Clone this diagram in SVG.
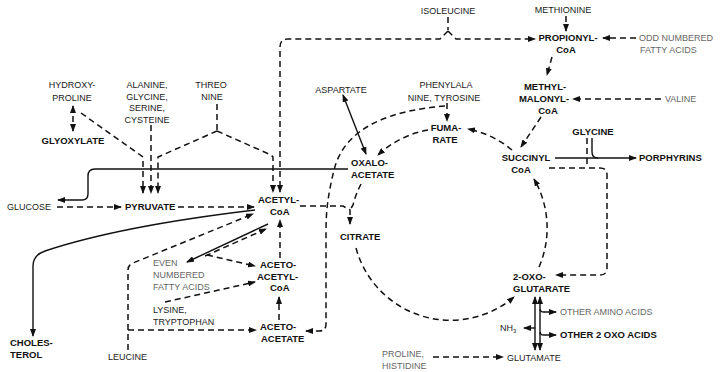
<svg xmlns="http://www.w3.org/2000/svg" width="725" height="372" viewBox="0 0 725 372">
<style>
.t{font-family:"Liberation Sans",Arial,sans-serif;font-size:9px;fill:#1a1a1a}
.b{font-weight:bold;fill:#111;font-size:9.5px}
.f{fill:#666}
.m{text-anchor:middle}
.d{fill:none;stroke:#111;stroke-width:1.5;stroke-dasharray:6 4}
.s{fill:none;stroke:#111;stroke-width:1.4}
</style>
<defs>
<marker id="a" viewBox="0 0 8 6" refX="7" refY="3" markerWidth="8" markerHeight="6" markerUnits="userSpaceOnUse" orient="auto-start-reverse"><path d="M0,0 L8,3 L0,6 z" fill="#111"/></marker>
</defs>
<rect width="725" height="372" fill="#fff"/>
<g id="connectors">
<path class="d" d="M73,106 L73,131" marker-start="url(#a)" marker-end="url(#a)"/>
<path class="d" d="M81,113 L143,157 L143,193" marker-end="url(#a)"/>
<path class="d" d="M151,125 L151,193" marker-end="url(#a)"/>
<path class="d" d="M217,104 L217,131 M217,131 L158,157 L158,193" marker-end="url(#a)"/>
<path class="d" d="M217,131 L271,155 L273,157 L273,192" marker-end="url(#a)"/>
<path class="d" d="M448,17 L448,30"/>
<path class="d" d="M448,31 L440,39 L288,39 Q280,39 280,47 L280,192" marker-end="url(#a)"/>
<path class="d" d="M448,31 L456,39 L535,39" marker-end="url(#a)"/>
<path class="d" d="M566,16 L566,31" marker-end="url(#a)"/>
<path class="d" d="M636,38 L603,38" marker-end="url(#a)"/>
<path class="d" d="M552,57 L547,75" marker-end="url(#a)"/>
<path class="d" d="M661,99 L573,99" marker-end="url(#a)"/>
<path class="d" d="M541,117 L521,147" marker-end="url(#a)"/>
<path class="d" d="M512,150 A98,98 0 0 0 468,129" marker-end="url(#a)"/>
<path class="d" d="M428,130 A98,98 0 0 0 378,155" marker-end="url(#a)"/>
<path class="d" d="M361,184 A98,98 0 0 0 353,205 L350,210"/>
<path class="d" d="M300,206 L343,206 L350,210 L350,224" marker-end="url(#a)"/>
<path class="d" d="M356,248 A98,98 0 0 0 514,297" marker-end="url(#a)"/>
<path class="d" d="M539,267 A98,98 0 0 0 534,179" marker-end="url(#a)"/>
<path class="d" d="M549,168 L600,168 Q607,168 607,175 L607,268 Q607,275 600,275 L556,275" marker-end="url(#a)"/>
<path class="d" d="M587,138 L587,168"/>
<path class="s" d="M555,158 L636,158" marker-end="url(#a)"/>
<path class="s" d="M592,138 L592,152 Q592,158 598,158"/>
<path class="s" d="M343,95 L366,154" marker-start="url(#a)" marker-end="url(#a)"/>
<path class="d" d="M447,103 L447,121" marker-end="url(#a)"/>
<path class="d" d="M445,106 C395,110 345,125 334,170 C328,195 326,210 326,232 L326,324 Q326,331 319,331 L306,331" marker-end="url(#a)"/>
<path class="s" d="M348,169 L95,169 Q88,169 88,176 L88,194 Q88,200 82,200 L58,200" marker-end="url(#a)"/>
<path class="d" d="M57,207 L121,207" marker-end="url(#a)"/>
<path class="d" d="M178,207 L254,207" marker-end="url(#a)"/>
<path class="s" d="M255,210 Q120,226 45,251 Q33,255 33,266 L33,336" marker-end="url(#a)"/>
<path class="d" d="M128,350 L128,270 Q128,265 133,263 L253,214" marker-end="url(#a)"/>
<path class="d" d="M128,330 L256,330" marker-end="url(#a)"/>
<path class="s" d="M268,224 L187,262" marker-end="url(#a)"/>
<path class="d" d="M205,256 L266,229" marker-end="url(#a)"/>
<path class="d" d="M207,255 L255,266" marker-end="url(#a)"/>
<path class="d" d="M165,302 L255,282" marker-end="url(#a)"/>
<path class="d" d="M279,320 L279,297" marker-end="url(#a)"/>
<path class="d" d="M280,258 L280,220" marker-end="url(#a)"/>
<path class="s" d="M535,297 L535,350" marker-start="url(#a)" marker-end="url(#a)"/>
<path class="s" d="M540,297 L540,350" marker-start="url(#a)" marker-end="url(#a)"/>
<path class="s" d="M535,328 L524,328" marker-end="url(#a)"/>
<path class="s" d="M540,309 Q540,312 544,312 L556,312" marker-end="url(#a)"/>
<path class="s" d="M540,332 Q540,335 544,335 L556,335" marker-end="url(#a)"/>
<path class="d" d="M433,357 L503,357" marker-end="url(#a)"/>
</g>
<g id="isoleucine"><text class="t m" x="448" y="14">ISOLEUCINE</text></g>
<g id="methionine"><text class="t m" x="563" y="13">METHIONINE</text></g>
<g id="propionyl-coa"><text class="t b m" x="568" y="41">PROPIONYL-</text><text class="t b m" x="566" y="53">CoA</text></g>
<g id="odd-fatty-acids"><text class="t f" x="639" y="41">ODD NUMBERED</text><text class="t f" x="640" y="53">FATTY ACIDS</text></g>
<g id="methylmalonyl-coa"><text class="t b m" x="545" y="90">METHYL-</text><text class="t b m" x="544" y="102">MALONYL-</text><text class="t b m" x="548" y="114">CoA</text></g>
<g id="valine"><text class="t f" x="665" y="102">VALINE</text></g>
<g id="hydroxyproline"><text class="t m" x="72" y="88">HYDROXY-</text><text class="t m" x="72" y="101">PROLINE</text></g>
<g id="alanine"><text class="t m" x="147" y="88">ALANINE,</text><text class="t m" x="147" y="100">GLYCINE,</text><text class="t m" x="147" y="111">SERINE,</text><text class="t m" x="147" y="123">CYSTEINE</text></g>
<g id="threonine"><text class="t m" x="211" y="88">THREO</text><text class="t m" x="212" y="100">NINE</text></g>
<g id="aspartate"><text class="t m" x="341" y="93">ASPARTATE</text></g>
<g id="phenylalanine"><text class="t m" x="446" y="88">PHENYLALA</text><text class="t m" x="444" y="101">NINE, TYROSINE</text></g>
<g id="fumarate"><text class="t b m" x="446" y="131">FUMA-</text><text class="t b m" x="445" y="143">RATE</text></g>
<g id="glycine"><text class="t b m" x="593" y="135">GLYCINE</text></g>
<g id="succinyl-coa"><text class="t b m" x="526" y="161">SUCCINYL</text><text class="t b m" x="521" y="173">CoA</text></g>
<g id="porphyrins"><text class="t b" x="639" y="161">PORPHYRINS</text></g>
<g id="glyoxylate"><text class="t b m" x="73" y="144">GLYOXYLATE</text></g>
<g id="oxaloacetate"><text class="t b" x="351" y="166">OXALO-</text><text class="t b" x="351" y="178">ACETATE</text></g>
<g id="glucose"><text class="t" x="7" y="210">GLUCOSE</text></g>
<g id="pyruvate"><text class="t b" x="125" y="210">PYRUVATE</text></g>
<g id="acetyl-coa"><text class="t b" x="258" y="203">ACETYL-</text><text class="t b" x="270" y="215">CoA</text></g>
<g id="citrate"><text class="t b" x="340" y="240">CITRATE</text></g>
<g id="even-fatty-acids"><text class="t f" x="153" y="266">EVEN</text><text class="t f" x="153" y="278">NUMBERED</text><text class="t f" x="153" y="290">FATTY ACIDS</text></g>
<g id="acetoacetyl-coa"><text class="t b" x="260" y="268">ACETO-</text><text class="t b" x="257" y="280">ACETYL-</text><text class="t b" x="270" y="291">CoA</text></g>
<g id="lysine"><text class="t" x="153" y="313">LYSINE,</text><text class="t" x="153" y="325">TRYPTOPHAN</text></g>
<g id="acetoacetate"><text class="t b" x="260" y="330">ACETO-</text><text class="t b" x="261" y="342">ACETATE</text></g>
<g id="cholesterol"><text class="t b" x="10" y="346">CHOLES-</text><text class="t b" x="10" y="358">TEROL</text></g>
<g id="leucine"><text class="t" x="108" y="360">LEUCINE</text></g>
<g id="oxoglutarate"><text class="t b" x="513" y="280">2-OXO-</text><text class="t b" x="513" y="292">GLUTARATE</text></g>
<g id="nh3"><text class="t" x="500" y="331">NH<tspan font-size="6" dy="2">3</tspan></text></g>
<g id="other-amino-acids"><text class="t f" x="560" y="315">OTHER AMINO ACIDS</text></g>
<g id="other-oxo-acids"><text class="t b" x="560" y="338">OTHER 2 OXO ACIDS</text></g>
<g id="proline-histidine"><text class="t f" x="382" y="357">PROLINE,</text><text class="t f" x="382" y="369">HISTIDINE</text></g>
<g id="glutamate"><text class="t" x="507" y="361">GLUTAMATE</text></g>
</svg>
